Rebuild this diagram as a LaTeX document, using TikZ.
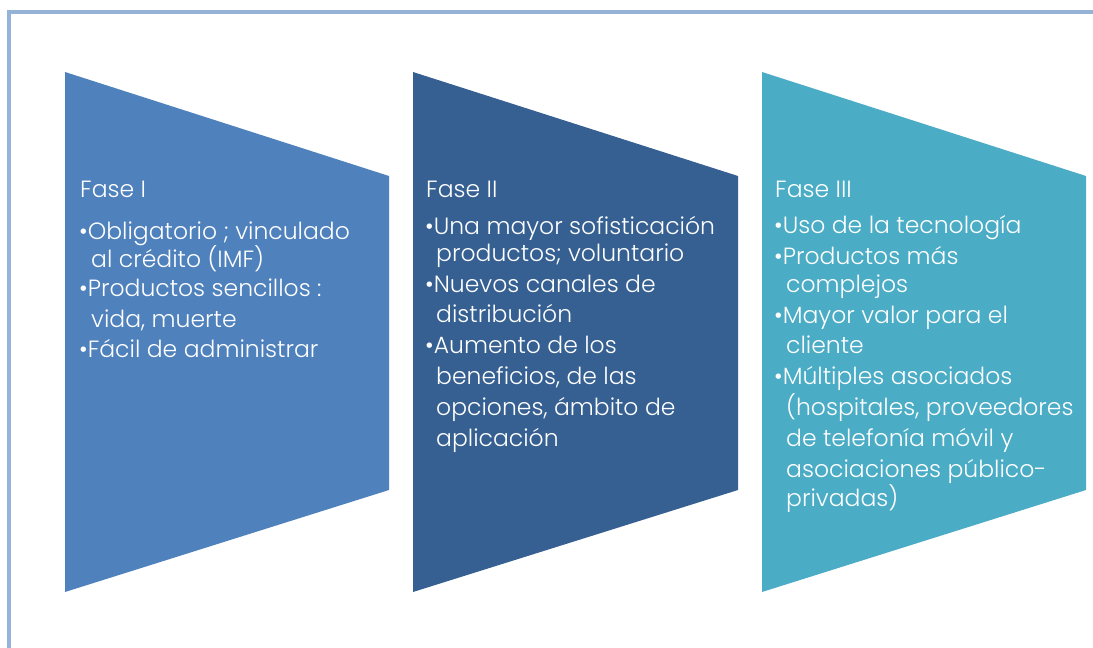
\documentclass[tikz,border=0pt]{standalone}
\usepackage{fontspec}
\setmainfont{Poppins}[UprightFont=* Light]
\definecolor{frameblue}{HTML}{95B3D7}
\definecolor{phaseA}{HTML}{4F81BD}
\definecolor{phaseB}{HTML}{366092}
\definecolor{phaseC}{HTML}{4BACC6}
\tikzset{
  txt/.style={anchor=base west, inner sep=0pt, text=white, font=\fontsize{23.5}{23.5}\selectfont},
  ttl/.style={txt},
  frameline/.style={draw=frameblue, line width=4pt}
}
\begin{document}
\begin{tikzpicture}[x=1pt,y=-1pt]
\useasboundingbox (0,0) rectangle (1093,648);
% frame
\draw[frameline] (7,12) -- (1093,12);
\draw[frameline] (9,10) -- (9,648);
% shapes
\fill[phaseA] (65,72) -- (389,176) -- (389,490) -- (65,592) -- cycle;
\fill[phaseB] (413,72) -- (738,176) -- (738,490) -- (413,592) -- cycle;
\fill[phaseC] (762,72) -- (1086,176) -- (1086,490) -- (762,592) -- cycle;
% Fase I
\node[ttl] (a0) at (80,197) {Fase I};
\node[txt] (a1) at (79,239) {•Obligatorio ; vinculado};
\node[txt] (a2) at (91,267) {al crédito (IMF)};
\node[txt] (a3) at (79,296) {•Productos sencillos :};
\node[txt] (a4) at (91,327) {vida, muerte};
\node[txt] (a5) at (79,357) {•Fácil de administrar};
% Fase II
\node[ttl] (b0) at (426,197) {Fase II};
\node[txt] (b1) at (425,234) {•Una mayor sofisticación};
\node[txt] (b2) at (436,261) {productos; voluntario};
\node[txt] (b3) at (425,292) {•Nuevos canales de};
\node[txt] (b4) at (436,322) {distribución};
\node[txt] (b5) at (425,353) {•Aumento de los};
\node[txt] (b6) at (436,384) {beneficios, de las};
\node[txt] (b7) at (436,415) {opciones, ámbito de};
\node[txt] (b8) at (436,446) {aplicación};
% Fase III
\node[ttl] (c0) at (775,197) {Fase III};
\node[txt] (c1) at (774,233) {•Uso de la tecnología};
\node[txt] (c2) at (774,264) {•Productos más};
\node[txt] (c3) at (786,292) {complejos};
\node[txt] (c4) at (774,323) {•Mayor valor para el};
\node[txt] (c5) at (786,353) {cliente};
\node[txt] (c6) at (774,384) {•Múltiples asociados};
\node[txt] (c7) at (786,415) {(hospitales, proveedores};
\node[txt] (c8) at (786,446) {de telefonía móvil y};
\node[txt] (c9) at (786,477) {asociaciones público-};
\node[txt] (c10) at (786,506) {privadas)};
\end{tikzpicture}
\end{document}
